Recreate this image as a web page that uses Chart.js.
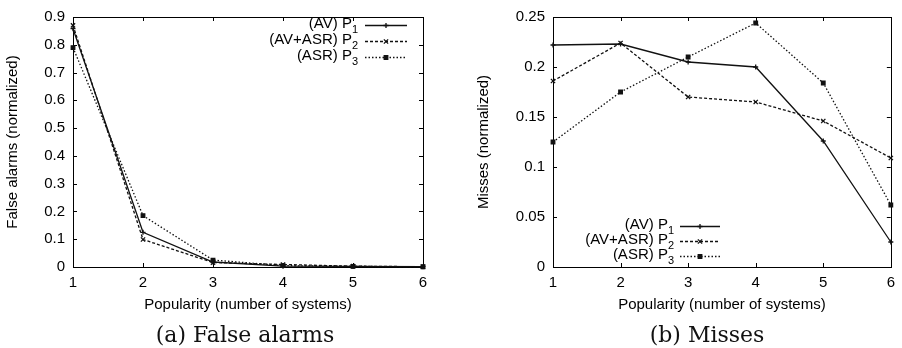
<!DOCTYPE html>
<html>
<head>
<meta charset="utf-8">
<script src="https://cdn.jsdelivr.net/npm/chart.js@4/dist/chart.umd.min.js"></script>
<style>
    body { margin: 0; background: #fff; }
    #wrap { position: relative; width: 902px; height: 348px; overflow: hidden; }
    canvas { position: absolute; top: 0; }
    .caption {
        position: absolute; top: 322px; width: 300px; text-align: center;
        font-family: 'DejaVu Serif', serif; font-size: 22px; color: #111; line-height: 26px;
    }
</style>
</head>
<body>
<div id="wrap">
    <canvas id="chart_fa" width="451" height="348" style="left:0"></canvas>
    <canvas id="chart_miss" width="451" height="348" style="left:451px"></canvas>
    <div class="caption" style="left:95px">(a) False alarms</div>
    <div class="caption" style="left:557px">(b) Misses</div>
</div>
<script>
// popularity = number of systems agreeing
var popularity = ['1', '2', '3', '4', '5', '6']

var series_name = ['(AV) P', '(AV+ASR) P', '(ASR) P']
var series_sub = ['1', '2', '3']

var false_alarm_p1 = [0.858, 0.125, 0.018, 0.003, 0.002, 0.001]
var false_alarm_p2 = [0.870, 0.099, 0.016, 0.009, 0.003, 0.001]
var false_alarm_p3 = [0.790, 0.185, 0.025, 0.005, 0.002, 0.001]

var miss_p1 = [0.222, 0.223, 0.205, 0.200, 0.126, 0.025]
var miss_p2 = [0.186, 0.224, 0.170, 0.165, 0.146, 0.109]
var miss_p3 = [0.125, 0.175, 0.210, 0.244, 0.184, 0.062]

var false_alarm_ticks = ['0', '0.1', '0.2', '0.3', '0.4', '0.5', '0.6', '0.7', '0.8', '0.9']
var miss_ticks = ['0', '0.05', '0.1', '0.15', '0.2', '0.25']

var line_color = '#111'
var dash_list = [[], [3, 2], [1.5, 2]]
var point_list = [
    { pointStyle: 'cross', radius: 2.5 },
    { pointStyle: 'crossRot', radius: 3 },
    { pointStyle: 'rect', radius: 2.5 }
]
var sans = "'Liberation Sans', Arial, sans-serif"

// frame with gnuplot style inward ticks on all four sides
var frame_plugin = {
    id: 'frame',
    beforeDatasetsDraw: function (chart) {
        var ctx = chart.ctx
        var a = chart.chartArea
        var tick = 4
        ctx.save()
        ctx.strokeStyle = '#000'
        ctx.lineWidth = 1
        ctx.beginPath()
        chart.scales.x.ticks.forEach(function (t, i) {
            var px = Math.round(chart.scales.x.getPixelForTick(i)) + 0.5
            ctx.moveTo(px, a.bottom); ctx.lineTo(px, a.bottom - tick)
            ctx.moveTo(px, a.top); ctx.lineTo(px, a.top + tick)
        })
        chart.scales.y.ticks.forEach(function (t, i) {
            var py = Math.round(chart.scales.y.getPixelForTick(i)) + 0.5
            ctx.moveTo(a.left, py); ctx.lineTo(a.left + tick, py)
            ctx.moveTo(a.right, py); ctx.lineTo(a.right - tick, py)
        })
        ctx.stroke()
        ctx.strokeRect(Math.round(a.left) + 0.5, Math.round(a.top) + 0.5,
            Math.round(a.right - a.left), Math.round(a.bottom - a.top))
        ctx.restore()
    }
}

// gnuplot like key: text right aligned, line sample on the right
var key_plugin = {
    id: 'key',
    afterDraw: function (chart, args, opts) {
        var ctx = chart.ctx
        ctx.save()
        chart.data.datasets.forEach(function (ds, i) {
            var y = opts.rows[i]
            ctx.font = '11px ' + sans
            var sub_w = ctx.measureText(series_sub[i]).width
            ctx.fillStyle = '#000'
            ctx.textBaseline = 'alphabetic'
            ctx.textAlign = 'left'
            ctx.fillText(series_sub[i], opts.textRight - sub_w, y + 8)
            ctx.font = '15px ' + sans
            ctx.textAlign = 'right'
            ctx.fillText(series_name[i], opts.textRight - sub_w, y + 3)

            ctx.strokeStyle = line_color
            ctx.lineWidth = 1.3
            ctx.setLineDash(dash_list[i])
            ctx.beginPath()
            ctx.moveTo(opts.lineLeft, y + 0.5)
            ctx.lineTo(opts.lineRight, y + 0.5)
            ctx.stroke()
            ctx.setLineDash([])
            ctx.fillStyle = line_color
            Chart.helpers.drawPoint(ctx, {
                pointStyle: point_list[i].pointStyle,
                radius: point_list[i].radius,
                rotation: 0,
                borderWidth: 1.3
            }, (opts.lineLeft + opts.lineRight) / 2, y + 0.5)
        })
        ctx.restore()
    }
}

function chart_create(canvas_id, values, tick_labels, y_max, y_step, y_title, layout) {
    return new Chart(document.getElementById(canvas_id), {
        type: 'line',
        data: {
            labels: popularity,
            datasets: values.map(function (v, i) {
                return {
                    label: series_name[i] + series_sub[i],
                    data: v,
                    borderColor: line_color,
                    backgroundColor: line_color,
                    borderWidth: 1.3,
                    borderDash: dash_list[i],
                    tension: 0,
                    pointStyle: point_list[i].pointStyle,
                    pointRadius: point_list[i].radius,
                    pointBorderWidth: 1.3,
                    clip: false
                }
            })
        },
        options: {
            responsive: false,
            animation: false,
            devicePixelRatio: 1,
            layout: {
                padding: { left: 0, top: 15, right: layout.padRight, bottom: 31 }
            },
            scales: {
                x: {
                    grid: { display: false, drawTicks: false },
                    border: { display: false },
                    ticks: {
                        color: '#000', padding: 7, maxRotation: 0,
                        font: { family: sans, size: 15 }
                    },
                    title: {
                        display: true, text: 'Popularity (number of systems)', color: '#000',
                        font: { family: sans, size: 15 }, padding: { top: 0, bottom: 3 }
                    },
                    afterFit: function (scale) { scale.height = 50 }
                },
                y: {
                    min: 0, max: y_max,
                    grid: { display: false, drawTicks: false },
                    border: { display: false },
                    ticks: {
                        stepSize: y_step, color: '#000', padding: 8,
                        font: { family: sans, size: 15 },
                        callback: function (value) {
                            var hit = tick_labels.find(function (t) {
                                return Math.abs(Number(t) - value) < 1e-6
                            })
                            return hit === undefined ? '' : hit
                        }
                    },
                    title: {
                        display: true, text: y_title, color: '#000',
                        font: { family: sans, size: 15 }, padding: { top: layout.titlePad, bottom: 0 }
                    },
                    afterFit: function (scale) { scale.width = layout.yWidth }
                }
            },
            plugins: {
                legend: { display: false },
                tooltip: { enabled: false },
                key: layout.key
            }
        },
        plugins: [frame_plugin, key_plugin]
    })
}

chart_create('chart_fa', [false_alarm_p1, false_alarm_p2, false_alarm_p3],
    false_alarm_ticks, 0.9, 0.1, 'False alarms (normalized)',
    { padRight: 28, yWidth: 73, titlePad: 4,
      key: { textRight: 358, lineLeft: 365, lineRight: 407, rows: [25, 41, 57] } })

chart_create('chart_miss', [miss_p1, miss_p2, miss_p3],
    miss_ticks, 0.25, 0.05, 'Misses (normalized)',
    { padRight: 8, yWidth: 102, titlePad: 24,
      key: { textRight: 223, lineLeft: 229, lineRight: 269, rows: [226, 241, 256] } })
</script>
</body>
</html>
